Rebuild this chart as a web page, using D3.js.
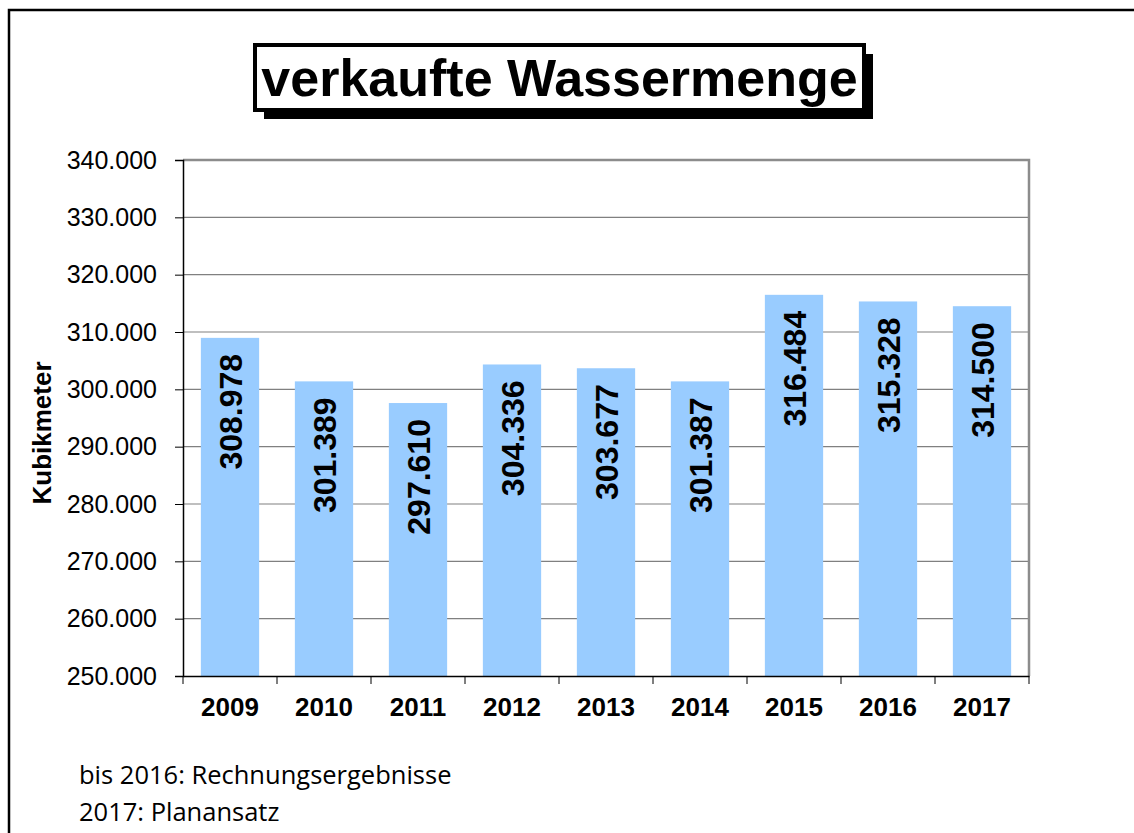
<!DOCTYPE html>
<html>
<head>
<meta charset="utf-8">
<script src="https://cdn.jsdelivr.net/npm/d3@7"></script>
<style>
  html, body { margin: 0; padding: 0; background: #fff; }
  svg { display: block; }
</style>
</head>
<body>
<script>
const years = ["2009", "2010", "2011", "2012", "2013", "2014", "2015", "2016", "2017"];
const values = [308978, 301389, 297610, 304336, 303677, 301387, 316484, 315328, 314500];
const yTicks = [250000, 260000, 270000, 280000, 290000, 300000, 310000, 320000, 330000, 340000];
const titleText = "verkaufte Wassermenge";
const yAxisTitle = "Kubikmeter";
const footerLines = ["bis 2016: Rechnungsergebnisse", "2017: Planansatz"];

const W = 1134, H = 833;
const plot = { left: 183, top: 160, right: 1029, bottom: 676 };
const fmt = v => d3.format(",.0f")(v).replace(/,/g, ".");

const svg = d3.select("body").append("svg").attr("width", W).attr("height", H);
svg.append("rect").attr("width", W).attr("height", H).attr("fill", "#fff");

// outer frame (left + top)
svg.append("path").attr("d", `M9,${H} L9,10 L${W},10`)
  .attr("fill", "none").attr("stroke", "#000").attr("stroke-width", 2.5);

const x = d3.scaleBand().domain(years).range([plot.left, plot.right]).paddingInner(0.38).paddingOuter(0.19);
const y = d3.scaleLinear().domain([250000, 340000]).range([plot.bottom, plot.top]);

// gridlines
svg.append("g").selectAll("line").data(yTicks.slice(1, -1)).join("line")
  .attr("x1", plot.left).attr("x2", plot.right)
  .attr("y1", d => y(d)).attr("y2", d => y(d))
  .attr("stroke", "#808080").attr("stroke-width", 1.2);

// plot border top/right (gray)
svg.append("path").attr("d", `M${plot.left},${plot.top} L${plot.right},${plot.top} L${plot.right},${plot.bottom}`)
  .attr("fill", "none").attr("stroke", "#8c8c8c").attr("stroke-width", 2.5);

// bars
svg.append("g").selectAll("rect").data(years).join("rect")
  .attr("x", d => x(d)).attr("width", x.bandwidth())
  .attr("y", (d, i) => y(values[i])).attr("height", (d, i) => y(250000) - y(values[i]))
  .attr("fill", "#99CCFF");

// bar labels
svg.append("g").selectAll("text").data(years).join("text")
  .attr("transform", (d, i) => `translate(${x(d) + x.bandwidth() / 2},${y(values[i]) + 16}) rotate(-90)`)
  .attr("text-anchor", "end").attr("dy", "0.36em")
  .attr("font-family", "Liberation Sans, Arial, sans-serif")
  .attr("font-weight", "bold").attr("font-size", 32).attr("fill", "#000")
  .text((d, i) => fmt(values[i]));

// y axis
const yAxis = d3.axisLeft(y).tickValues(yTicks).tickSize(8).tickPadding(18).tickFormat(fmt);
const gy = svg.append("g").attr("transform", `translate(${plot.left},0)`).call(yAxis);
gy.select(".domain").attr("stroke", "#000").attr("stroke-width", 1.5);
gy.selectAll(".tick line").attr("stroke", "#000").attr("stroke-width", 1);
gy.selectAll(".tick text").attr("font-family", "Liberation Sans, Arial, sans-serif")
  .attr("font-size", 25).attr("fill", "#000");

// x axis
const xAxis = d3.axisBottom(x).tickSize(0).tickPadding(22);
const gx = svg.append("g").attr("transform", `translate(0,${plot.bottom})`).call(xAxis);
gx.select(".domain").attr("stroke", "#000").attr("stroke-width", 1.5);
gx.selectAll(".tick text").attr("font-family", "Liberation Sans, Arial, sans-serif")
  .attr("font-weight", "bold").attr("font-size", 26).attr("fill", "#000");
// category boundary ticks
const bounds = d3.range(years.length + 1).map(i => plot.left + i * (plot.right - plot.left) / years.length);
svg.append("g").selectAll("line").data(bounds).join("line")
  .attr("x1", d => d).attr("x2", d => d)
  .attr("y1", plot.bottom).attr("y2", plot.bottom + 8)
  .attr("stroke", "#000").attr("stroke-width", 1);

// y axis title
svg.append("text")
  .attr("transform", `translate(42,433) rotate(-90)`)
  .attr("text-anchor", "middle").attr("dy", "0.35em")
  .attr("font-family", "Liberation Sans, Arial, sans-serif")
  .attr("font-weight", "bold").attr("font-size", 26).attr("fill", "#000")
  .text(yAxisTitle);

// title box with shadow
const tb = { x: 255, y: 45, w: 609, h: 65 };
svg.append("rect").attr("x", tb.x + 9).attr("y", tb.y + 9).attr("width", tb.w).attr("height", tb.h).attr("fill", "#000");
svg.append("rect").attr("x", tb.x).attr("y", tb.y).attr("width", tb.w).attr("height", tb.h)
  .attr("fill", "#fff").attr("stroke", "#000").attr("stroke-width", 4);
svg.append("text").attr("x", tb.x + tb.w / 2).attr("y", tb.y + 51)
  .attr("text-anchor", "middle")
  .attr("font-family", "Liberation Sans, Arial, sans-serif")
  .attr("font-weight", "bold").attr("font-size", 52).attr("fill", "#000")
  .text(titleText);

// footer
svg.append("g").selectAll("text").data(footerLines).join("text")
  .attr("x", 79).attr("y", (d, i) => 784 + i * 37)
  .attr("font-family", "'Open Sans', sans-serif")
  .attr("font-size", 25.5).attr("fill", "#000")
  .text(d => d);
</script>
</body>
</html>
